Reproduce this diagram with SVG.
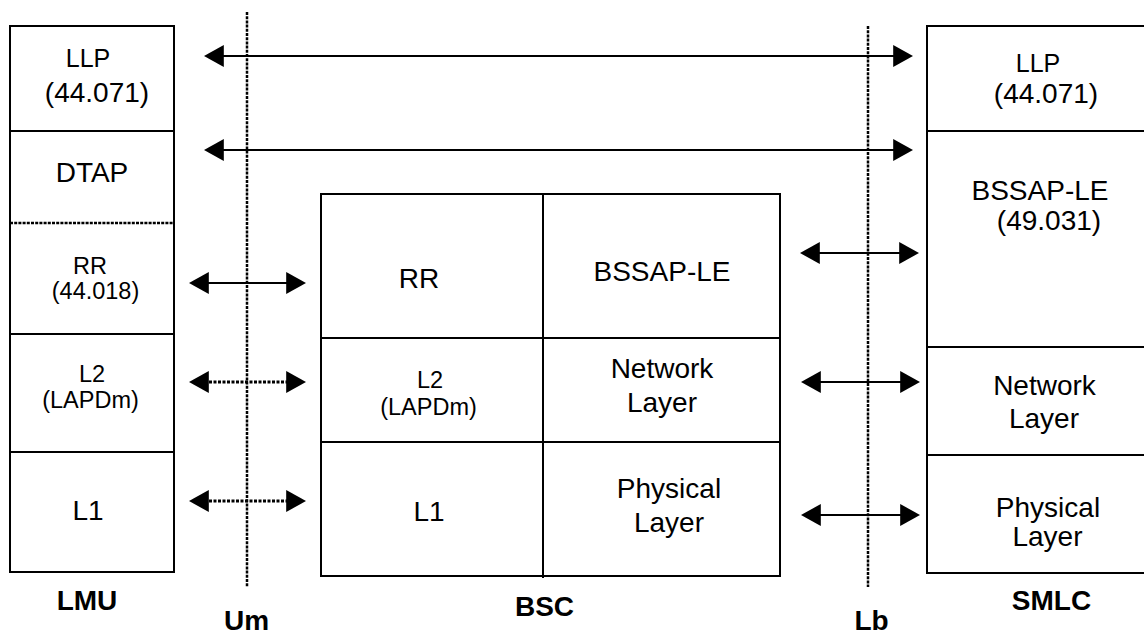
<svg xmlns="http://www.w3.org/2000/svg" width="1144" height="634" viewBox="0 0 1144 634">
<style>
.box{fill:#fff;stroke:#000;stroke-width:2}
.div{stroke:#000;stroke-width:2;fill:none}
.dot{stroke:#000;stroke-width:2.5;stroke-dasharray:3 1.2;fill:none}
.t{font-family:"Liberation Sans",Arial,sans-serif;font-size:28px;text-anchor:middle;fill:#000}
.s{font-size:23.5px}
.m{font-size:25px}
.b{font-weight:bold}
.arr{stroke:#000;stroke-width:2;fill:none;marker-start:url(#ah);marker-end:url(#ah)}
.darr{stroke:#000;stroke-width:3;stroke-dasharray:3 1.5;fill:none;marker-start:url(#ah);marker-end:url(#ah)}
</style>
<defs>
<marker id="ah" markerUnits="userSpaceOnUse" markerWidth="20" markerHeight="22" viewBox="0 0 18 20" refX="8" refY="10" orient="auto-start-reverse">
<path d="M0,0 L18,10 L0,20 z" fill="#000"/>
</marker>
</defs>
<rect width="1144" height="634" fill="#fff"/>

<g id="LMU">
<rect class="box" x="10" y="26" width="164" height="546"/>
<line class="div" x1="10" y1="131" x2="174" y2="131"/>
<line class="dot" x1="10" y1="223" x2="174" y2="223"/>
<line class="div" x1="10" y1="334" x2="174" y2="334"/>
<line class="div" x1="10" y1="452" x2="174" y2="452"/>
<text class="t m" x="88" y="67">LLP</text>
<text class="t" x="97" y="102">(44.071)</text>
<text class="t" x="92" y="182">DTAP</text>
<text class="t s" x="90" y="274">RR</text>
<text class="t s" x="95.5" y="299">(44.018)</text>
<text class="t s" x="92" y="382">L2</text>
<text class="t s" x="90.5" y="408">(LAPDm)</text>
<text class="t" x="88" y="520">L1</text>
<text class="t b" x="87" y="610">LMU</text>
</g>

<g id="BSC">
<rect class="box" x="321" y="194" width="459" height="382"/>
<line class="div" x1="543" y1="194" x2="543" y2="578"/>
<line class="div" x1="321" y1="338" x2="780" y2="338"/>
<line class="div" x1="321" y1="442" x2="780" y2="442"/>
<text class="t" x="419" y="288">RR</text>
<text class="t" x="662" y="281">BSSAP-LE</text>
<text class="t s" x="430" y="388">L2</text>
<text class="t s" x="428.5" y="415">(LAPDm)</text>
<text class="t" x="662" y="378">Network</text>
<text class="t" x="662" y="412">Layer</text>
<text class="t" x="429" y="521">L1</text>
<text class="t" x="669" y="498">Physical</text>
<text class="t" x="669" y="532">Layer</text>
<text class="t b" x="544.5" y="616">BSC</text>
</g>

<g id="SMLC">
<rect class="box" x="927" y="26" width="230" height="547"/>
<line class="div" x1="927" y1="131" x2="1144" y2="131"/>
<line class="div" x1="927" y1="347" x2="1144" y2="347"/>
<line class="div" x1="927" y1="455" x2="1144" y2="455"/>
<text class="t m" x="1038" y="71.5">LLP</text>
<text class="t" x="1046" y="103">(44.071)</text>
<text class="t" x="1040" y="200">BSSAP-LE</text>
<text class="t" x="1049" y="230">(49.031)</text>
<text class="t" x="1044.5" y="395">Network</text>
<text class="t" x="1044" y="428">Layer</text>
<text class="t" x="1048" y="517">Physical</text>
<text class="t" x="1047.5" y="546">Layer</text>
<text class="t b" x="1051.5" y="610">SMLC</text>
</g>

<g id="Um">
<line class="dot" x1="247" y1="12" x2="247" y2="587"/>
<text class="t b" x="246.5" y="630">Um</text>
</g>

<g id="Lb">
<line class="dot" x1="868" y1="26" x2="868" y2="587"/>
<text class="t b" x="871.5" y="630">Lb</text>
</g>

<g id="connectors">
<line class="arr" x1="215" y1="56" x2="902" y2="56"/>
<line class="arr" x1="215" y1="150" x2="902" y2="150"/>
<line class="arr" x1="200" y1="283" x2="295" y2="283"/>
<line class="darr" x1="200" y1="382" x2="295" y2="382"/>
<line class="darr" x1="200" y1="501" x2="295" y2="501"/>
<line class="arr" x1="811" y1="253" x2="908" y2="253"/>
<line class="arr" x1="812" y1="382" x2="909" y2="382"/>
<line class="arr" x1="812" y1="515" x2="909" y2="515"/>
</g>
</svg>
